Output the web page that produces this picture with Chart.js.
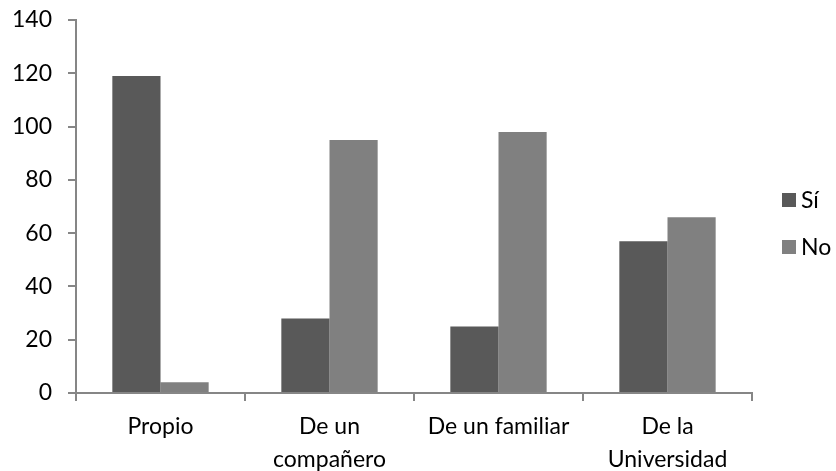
<!DOCTYPE html>
<html><head><meta charset="utf-8">
<script src="https://cdn.jsdelivr.net/npm/chart.js@4/dist/chart.umd.min.js"></script>
<style>html,body{margin:0;padding:0;background:#fff}#wrap{width:836px;height:471px;position:relative}</style>
</head><body><div id="wrap"><canvas id="c" width="836" height="471"></canvas></div>
<script>
const categories = [["Propio"], ["De un", "compañero"], ["De un familiar"], ["De la", "Universidad"]];
const seriesNames = ["Sí", "No"];
const siValues = [119, 28, 25, 57];
const noValues = [4, 95, 98, 66];
const yTicks = [0, 20, 40, 60, 80, 100, 120, 140];

const FONT = "Lato, 'Open Sans', sans-serif";
const colors = ["#595959", "#808080"];
const axisColor = "#868686";

const legendPlugin = {
  id: 'customLegend',
  afterDraw(chart) {
    const ctx = chart.ctx;
    ctx.save();
    ctx.font = "23px " + FONT;
    ctx.textBaseline = 'middle';
    ctx.textAlign = 'left';
    const ys = [200, 247];
    chart.data.datasets.forEach((ds, i) => {
      ctx.fillStyle = ds.backgroundColor;
      ctx.fillRect(782, ys[i] - 7, 14, 14);
      ctx.fillStyle = "#000";
      ctx.fillText(ds.label, 801, ys[i] + 1);
    });
    ctx.restore();
  }
};

new Chart(document.getElementById('c'), {
  type: 'bar',
  data: {
    labels: categories,
    datasets: [
      { label: seriesNames[0], data: siValues, backgroundColor: colors[0], borderWidth: 0 },
      { label: seriesNames[1], data: noValues, backgroundColor: colors[1], borderWidth: 0 }
    ]
  },
  options: {
    responsive: false,
    animation: false,
    devicePixelRatio: 1,
    layout: { padding: { left: 0, right: 84, top: 20, bottom: 0 } },
    datasets: { bar: { categoryPercentage: 0.57, barPercentage: 1.0 } },
    plugins: { legend: { display: false }, tooltip: { enabled: false } },
    scales: {
      x: {
        offset: true,
        grid: { display: true, offset: true, drawOnChartArea: false, drawTicks: true, tickLength: 8, color: axisColor, lineWidth: 2 },
        border: { display: true, color: axisColor, width: 2 },
        ticks: { color: "#000", font: { family: FONT, size: 23, lineHeight: 1.43 }, padding: 9, maxRotation: 0, autoSkip: false },
        afterFit(scale) { scale.height = 78; scale.paddingLeft = 0; scale.paddingRight = 0; }
      },
      y: {
        min: 0, max: 140,
        afterBuildTicks(scale) { scale.ticks = yTicks.map(v => ({ value: v })); },
        grid: { display: true, drawOnChartArea: false, drawTicks: true, tickLength: 8, color: axisColor, lineWidth: 2 },
        border: { display: true, color: axisColor, width: 2 },
        ticks: { color: "#000", font: { family: FONT, size: 23 }, padding: 16 },
        afterFit(scale) { scale.width = 76; scale.paddingTop = 0; scale.paddingBottom = 0; }
      }
    }
  },
  plugins: [legendPlugin]
});
</script></body></html>
